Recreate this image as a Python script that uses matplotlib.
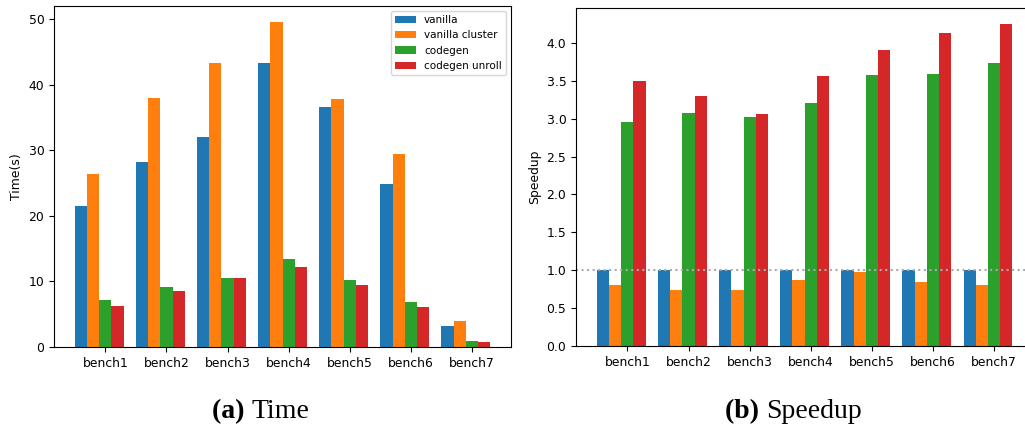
import numpy as np
import matplotlib.pyplot as plt

benches = ['bench1', 'bench2', 'bench3', 'bench4', 'bench5', 'bench6', 'bench7']
series = ['vanilla', 'vanilla cluster', 'codegen', 'codegen unroll']

# execution time in seconds
t_vanilla = [21.5, 28.2, 32.1, 43.3, 36.7, 24.9, 3.2]
t_cluster = [26.4, 38.0, 43.3, 49.6, 37.8, 29.4, 3.9]
t_codegen = [7.2, 9.2, 10.6, 13.4, 10.2, 6.9, 0.87]
t_unroll = [6.2, 8.5, 10.5, 12.2, 9.4, 6.05, 0.72]

# speedup over vanilla
s_vanilla = [1.0, 1.0, 1.0, 1.0, 1.0, 1.0, 1.0]
s_cluster = [0.81, 0.74, 0.74, 0.87, 0.97, 0.84, 0.81]
s_codegen = [2.96, 3.07, 3.02, 3.21, 3.57, 3.59, 3.73]
s_unroll = [3.50, 3.30, 3.06, 3.56, 3.91, 4.13, 4.25]

captions = [('(a)', 'Time'), ('(b)', 'Speedup')]

plt.rcParams['font.size'] = 8.9
colors = ['#1f77b4', '#ff7f0e', '#2ca02c', '#d62728']

fig = plt.figure(figsize=(10.25, 4.28), dpi=100)
ax1 = fig.add_axes([0.0527, 0.1893, 0.4459, 0.797])
# right panel runs slightly past the figure edge
ax2 = fig.add_axes([0.562, 0.1916, 0.446, 0.790])

x = np.arange(len(benches))
w = 0.2

for i, (vals, lab) in enumerate(zip([t_vanilla, t_cluster, t_codegen, t_unroll], series)):
    ax1.bar(x + (i - 2) * w, vals, w, color=colors[i], label=lab)
ax1.set_xticks(x)
ax1.set_xticklabels(benches)
ax1.set_ylabel('Time(s)')
ax1.legend(loc='upper right', fontsize=7.5)

for i, vals in enumerate([s_vanilla, s_cluster, s_codegen, s_unroll]):
    ax2.bar(x + (i - 2) * w, vals, w, color=colors[i])
ax2.axhline(1.0, color='#aaaaaa', linestyle=':', linewidth=1.5)
ax2.set_xticks(x)
ax2.set_xticklabels(benches)
ax2.set_ylabel('Speedup')

# sub-figure captions: bold tag + regular word, centred under each panel
serif = 'Liberation Serif'
renderer = fig.canvas.get_renderer()
figw = fig.get_figwidth() * fig.dpi
for (tag, word), cx in zip(captions, [261, 793]):
    t1 = fig.text(0, 0.023, tag + ' ', fontsize=20, family=serif, fontweight='bold')
    t2 = fig.text(0, 0.023, word, fontsize=20, family=serif)
    w1 = t1.get_window_extent(renderer).width
    w2 = t2.get_window_extent(renderer).width
    x0 = cx - (w1 + w2) / 2
    t1.set_x(x0 / figw)
    t2.set_x((x0 + w1) / figw)

plt.savefig('out.png', dpi=100)
